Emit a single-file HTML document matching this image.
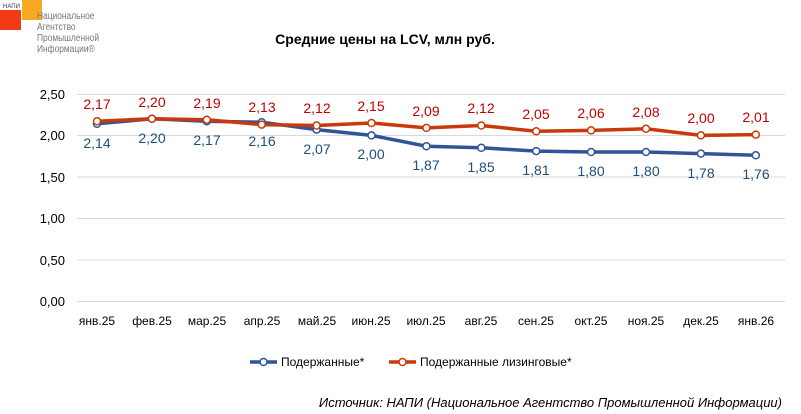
<!DOCTYPE html><html><head><meta charset="utf-8"><style>body{margin:0;background:#fff}svg{display:block;font-family:"Liberation Sans",sans-serif}</style></head><body>
<svg width="801" height="414" viewBox="0 0 801 414">
<rect x="0" y="10" width="21" height="20" fill="#f23a14"/>
<rect x="22" y="0" width="20" height="20" fill="#f7a823"/>
<text x="3" y="8" font-size="6" fill="#333">НАПИ</text>
<g font-size="10.5" fill="#777" transform="translate(37,0) scale(0.8,1)"><text x="0" y="19">Национальное</text><text x="0" y="30">Агентство</text><text x="0" y="41">Промышленной</text><text x="0" y="52">Информации®</text></g>
<text x="385" y="44" text-anchor="middle" font-size="14" font-weight="bold">Средние цены на LCV, млн руб.</text>
<g stroke="#d9d9d9" stroke-width="1"><line x1="77" x2="785" y1="94.5" y2="94.5"/><line x1="77" x2="785" y1="135.5" y2="135.5"/><line x1="77" x2="785" y1="177" y2="177"/><line x1="77" x2="785" y1="218.5" y2="218.5"/><line x1="77" x2="785" y1="260" y2="260"/><line x1="77" x2="785" y1="301.5" y2="301.5"/></g>
<g font-size="13" text-anchor="end" fill="#000"><text x="65" y="99">2,50</text><text x="65" y="140">2,00</text><text x="65" y="182">1,50</text><text x="65" y="223">1,00</text><text x="65" y="265">0,50</text><text x="65" y="306">0,00</text></g>
<g font-size="12" text-anchor="middle" fill="#000"><text x="97" y="325">янв.25</text><text x="152" y="325">фев.25</text><text x="207" y="325">мар.25</text><text x="262" y="325">апр.25</text><text x="317" y="325">май.25</text><text x="371" y="325">июн.25</text><text x="426" y="325">июл.25</text><text x="481" y="325">авг.25</text><text x="536" y="325">сен.25</text><text x="591" y="325">окт.25</text><text x="646" y="325">ноя.25</text><text x="701" y="325">дек.25</text><text x="756" y="325">янв.26</text></g>
<polyline fill="none" stroke="#2f5597" stroke-width="3.5" points="97,123.8 151.9,118.8 206.8,121.3 261.7,122.2 316.6,129.6 371.5,135.4 426.4,146.2 481.3,147.8 536.2,151.1 591.1,152 646,152 700.9,153.6 755.8,155.3"/>
<g fill="#fff" stroke="#2f5597" stroke-width="1.5"><circle cx="97" cy="123.8" r="3.5"/><circle cx="151.9" cy="118.8" r="3.5"/><circle cx="206.8" cy="121.3" r="3.5"/><circle cx="261.7" cy="122.2" r="3.5"/><circle cx="316.6" cy="129.6" r="3.5"/><circle cx="371.5" cy="135.4" r="3.5"/><circle cx="426.4" cy="146.2" r="3.5"/><circle cx="481.3" cy="147.8" r="3.5"/><circle cx="536.2" cy="151.1" r="3.5"/><circle cx="591.1" cy="152" r="3.5"/><circle cx="646" cy="152" r="3.5"/><circle cx="700.9" cy="153.6" r="3.5"/><circle cx="755.8" cy="155.3" r="3.5"/></g>
<polyline fill="none" stroke="#c9390c" stroke-width="3.5" points="97,121.3 151.9,118.8 206.8,119.7 261.7,124.6 316.6,125.5 371.5,123 426.4,127.9 481.3,125.5 536.2,131.3 591.1,130.4 646,128.8 700.9,135.4 755.8,134.6"/>
<g fill="#fff" stroke="#c9390c" stroke-width="1.5"><circle cx="97" cy="121.3" r="3.5"/><circle cx="151.9" cy="118.8" r="3.5"/><circle cx="206.8" cy="119.7" r="3.5"/><circle cx="261.7" cy="124.6" r="3.5"/><circle cx="316.6" cy="125.5" r="3.5"/><circle cx="371.5" cy="123" r="3.5"/><circle cx="426.4" cy="127.9" r="3.5"/><circle cx="481.3" cy="125.5" r="3.5"/><circle cx="536.2" cy="131.3" r="3.5"/><circle cx="591.1" cy="130.4" r="3.5"/><circle cx="646" cy="128.8" r="3.5"/><circle cx="700.9" cy="135.4" r="3.5"/><circle cx="755.8" cy="134.6" r="3.5"/></g>
<g font-size="14" text-anchor="middle" fill="#c00000"><text x="97" y="109">2,17</text><text x="152" y="107">2,20</text><text x="207" y="108">2,19</text><text x="262" y="112">2,13</text><text x="317" y="113">2,12</text><text x="371" y="111">2,15</text><text x="426" y="116">2,09</text><text x="481" y="113">2,12</text><text x="536" y="119">2,05</text><text x="591" y="118">2,06</text><text x="646" y="117">2,08</text><text x="701" y="123">2,00</text><text x="756" y="122">2,01</text></g>
<g font-size="14" text-anchor="middle" fill="#1f4e79"><text x="97" y="148">2,14</text><text x="152" y="143">2,20</text><text x="207" y="145">2,17</text><text x="262" y="146">2,16</text><text x="317" y="154">2,07</text><text x="371" y="159">2,00</text><text x="426" y="170">1,87</text><text x="481" y="172">1,85</text><text x="536" y="175">1,81</text><text x="591" y="176">1,80</text><text x="646" y="176">1,80</text><text x="701" y="178">1,78</text><text x="756" y="179">1,76</text></g>
<line x1="250" x2="277" y1="362" y2="362" stroke="#2f5597" stroke-width="3.5"/><circle cx="263.5" cy="362" r="3.5" fill="#fff" stroke="#2f5597" stroke-width="1.5"/>
<text x="281" y="366" font-size="12">Подержанные*</text>
<line x1="389" x2="416" y1="362" y2="362" stroke="#c9390c" stroke-width="3.5"/><circle cx="402.5" cy="362" r="3.5" fill="#fff" stroke="#c9390c" stroke-width="1.5"/>
<text x="420" y="366" font-size="12">Подержанные лизинговые*</text>
<text x="782" y="407" text-anchor="end" font-size="13" font-style="italic">Источник: НАПИ (Национальное Агентство Промышленной Информации)</text>
</svg></body></html>
